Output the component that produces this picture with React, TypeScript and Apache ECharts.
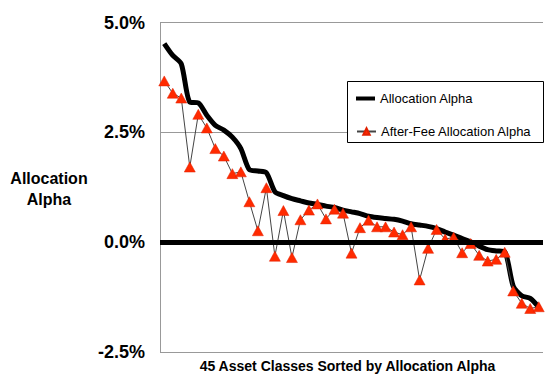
import React, { useEffect, useRef } from "react";
import * as echarts from "echarts";

const categories: string[] = Array.from({ length: 45 }, (_, i) => String(i + 1));

const allocationAlpha: number[] = [
  4.52, 4.25, 4.06, 3.19, 3.17, 2.89, 2.66, 2.55, 2.39, 2.13, 1.65, 1.62, 1.58, 1.15, 1.06,
  0.99, 0.94, 0.89, 0.86, 0.82, 0.79, 0.73, 0.69, 0.65, 0.59, 0.56, 0.54, 0.52, 0.48, 0.42,
  0.39, 0.36, 0.31, 0.23, 0.16, 0.08, 0.01, -0.09, -0.17, -0.2, -0.22, -1.0, -1.22, -1.28, -1.48,
];

const afterFeeAlpha: number[] = [
  3.67, 3.39, 3.28, 1.71, 2.91, 2.6, 2.13, 1.96, 1.56, 1.6, 0.92, 0.26, 1.24, -0.32, 0.72,
  -0.35, 0.51, 0.73, 0.87, 0.53, 0.75, 0.66, -0.25, 0.33, 0.5, 0.35, 0.35, 0.23, 0.17, 0.35,
  -0.86, -0.14, 0.29, 0.07, 0.11, -0.24, -0.03, -0.3, -0.43, -0.39, -0.23, -1.11, -1.39, -1.51, -1.47,
];

const FONT = "'Liberation Sans', Arial, Helvetica, sans-serif";

export default function App() {
  const ref = useRef<HTMLDivElement>(null);

  useEffect(() => {
    if (!ref.current) return;
    const chart = echarts.init(ref.current, undefined, { renderer: "svg" });
    chart.setOption({
      animation: false,
      backgroundColor: "#ffffff",
      grid: { left: 160, right: 13, top: 22.5, bottom: 35, containLabel: false },
      legend: [
        {
          left: 356,
          top: 92,
          padding: 0,
          itemWidth: 19,
          itemHeight: 4,
          icon: "rect",
          textStyle: { fontFamily: FONT, fontSize: 13, color: "#000" },
          data: [{ name: "Allocation Alpha", itemStyle: { color: "#000" } }],
        },
        {
          left: 356,
          top: 125,
          padding: 0,
          itemWidth: 19,
          itemHeight: 8,
          textStyle: { fontFamily: FONT, fontSize: 13, color: "#000" },
          data: [{ name: "After-Fee Allocation Alpha" }],
        },
      ],
      xAxis: {
        type: "category",
        data: categories,
        boundaryGap: true,
        axisLine: { show: false },
        axisTick: { show: false },
        axisLabel: { show: false },
        splitLine: { show: false },
      },
      yAxis: {
        type: "value",
        min: -2.5,
        max: 5,
        interval: 2.5,
        axisLine: { show: true, lineStyle: { color: "#999", width: 1 } },
        axisTick: { show: false },
        axisLabel: {
          margin: 15,
          fontFamily: FONT,
          fontSize: 18,
          fontWeight: "bold",
          color: "#000",
          formatter: (v: number) => v.toFixed(1) + "%",
        },
        splitLine: { show: true, lineStyle: { color: "#999", width: 1 } },
      },
      graphic: [
        {
          type: "rect",
          z: 1,
          shape: { x: 347.5, y: 81.5, width: 196, height: 61 },
          style: { fill: "#fff", stroke: "#000", lineWidth: 1 },
        },
        {
          type: "text",
          x: 49,
          y: 189,
          style: {
            text: "Allocation\nAlpha",
            fontFamily: FONT,
            fontSize: 16,
            fontWeight: "bold",
            fill: "#000",
            align: "center",
            verticalAlign: "middle",
            lineHeight: 21,
          },
        },
        {
          type: "text",
          x: 347.5,
          y: 366,
          style: {
            text: "45 Asset Classes Sorted by Allocation Alpha",
            fontFamily: FONT,
            fontSize: 14,
            fontWeight: "bold",
            fill: "#000",
            align: "center",
            verticalAlign: "middle",
          },
        },
      ],
      series: [
        {
          name: "Allocation Alpha",
          type: "line",
          data: allocationAlpha,
          smooth: 0.25,
          symbol: "none",
          z: 2,
          lineStyle: { color: "#000", width: 5 },
          itemStyle: { color: "#000" },
          markLine: {
            silent: true,
            symbol: "none",
            label: { show: false },
            lineStyle: { color: "#000", width: 5, type: "solid" },
            data: [{ yAxis: 0 }],
          },
        },
        {
          name: "After-Fee Allocation Alpha",
          type: "line",
          data: afterFeeAlpha,
          symbol: "triangle",
          symbolSize: [11, 10],
          showSymbol: true,
          showAllSymbol: true,
          z: 3,
          lineStyle: { color: "#444", width: 1 },
          itemStyle: { color: "#FF2A00", borderColor: "#E02000", borderWidth: 0.5 },
        },
      ],
    });
    return () => chart.dispose();
  }, []);

  return (
    <div
      ref={ref}
      style={{ position: "fixed", left: 0, top: 0, width: 556, height: 387, background: "#fff" }}
    />
  );
}
